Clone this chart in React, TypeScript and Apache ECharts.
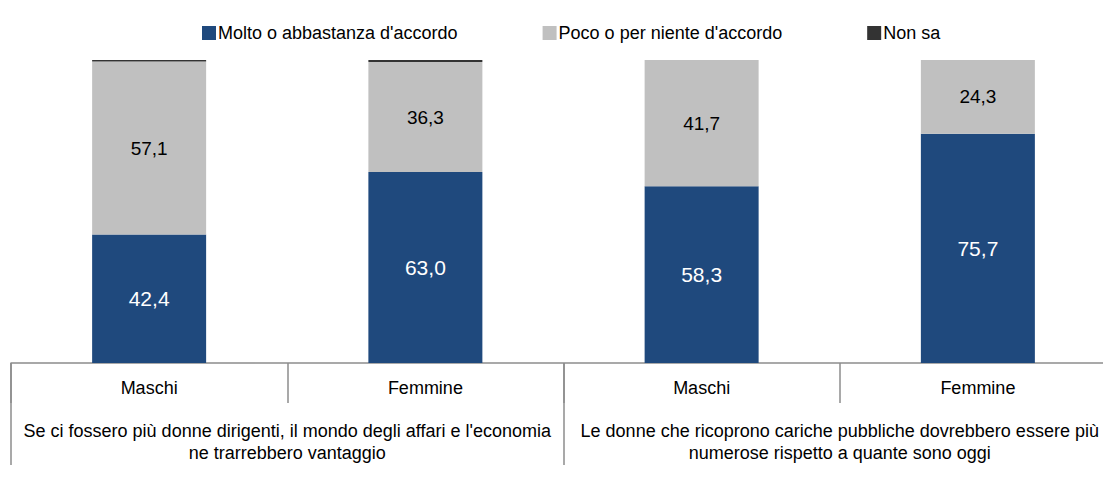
import React, { useEffect, useRef } from "react";
import * as echarts from "echarts";

const categories = ["Maschi", "Femmine", "Maschi", "Femmine"];
const groups = [
  "Se ci fossero più donne dirigenti, il mondo degli affari e l'economia\nne trarrebbero vantaggio",
  "Le donne che ricoprono cariche pubbliche dovrebbero essere più\nnumerose rispetto a quante sono oggi",
];
const accordo = [42.4, 63.0, 58.3, 75.7];
const disaccordo = [57.1, 36.3, 41.7, 24.3];
const nonSa = [0.5, 0.7, 0, 0];

const fmt = (p: any) => p.value.toFixed(1).replace(".", ",");
const FONT = "Liberation Sans, Arial, sans-serif";
const GRAY = "#8c8c8c";

export default function App() {
  const ref = useRef<HTMLDivElement>(null);
  useEffect(() => {
    const chart = echarts.init(ref.current!, null, { renderer: "svg" });
    chart.setOption({
      animation: false,
      textStyle: { fontFamily: FONT },
      legend: {
        top: 19,
        left: 197,
        itemGap: 85,
        itemWidth: 14,
        itemHeight: 14,
        icon: "rect",
        textStyle: { fontSize: 18, color: "#000", fontFamily: FONT, padding: [0, 0, 0, -3] },
        data: ["Molto o abbastanza d'accordo", "Poco o per niente d'accordo", "Non sa"],
      },
      grid: { left: 11, width: 1105, top: 60, bottom: 114, containLabel: false },
      xAxis: [
        {
          type: "category",
          data: categories,
          axisLine: { show: true, lineStyle: { color: GRAY, width: 1.5 } },
          axisTick: { show: true, length: 40, lineStyle: { color: GRAY, width: 1.5 } },
          axisLabel: { show: true, interval: 0, fontSize: 18, color: "#000", margin: 16, fontFamily: FONT },
        },
        {
          type: "category",
          data: groups,
          position: "bottom",
          axisLine: { show: false },
          axisTick: { show: true, interval: 0, length: 102, lineStyle: { color: GRAY, width: 1.5 } },
          axisLabel: {
            show: true,
            interval: 0,
            hideOverlap: false,
            fontSize: 18,
            color: "#000",
            margin: 57,
            lineHeight: 22,
            fontFamily: FONT,
          },
        },
      ],
      yAxis: { type: "value", min: 0, max: 100, show: false },
      series: [
        {
          name: "Molto o abbastanza d'accordo",
          type: "bar",
          stack: "s",
          barWidth: 114,
          data: accordo,
          itemStyle: { color: "#1F497D" },
          label: { show: true, position: "inside", color: "#fff", fontSize: 21, formatter: fmt, fontFamily: FONT },
        },
        {
          name: "Poco o per niente d'accordo",
          type: "bar",
          stack: "s",
          data: disaccordo,
          itemStyle: { color: "#C0C0C0" },
          label: { show: true, position: "inside", color: "#000", fontSize: 19, formatter: fmt, fontFamily: FONT },
        },
        {
          name: "Non sa",
          type: "bar",
          stack: "s",
          data: nonSa,
          itemStyle: { color: "#333333" },
        },
      ],
    });
    return () => chart.dispose();
  }, []);
  return (
    <div style={{ position: "absolute", left: 0, top: 0, width: 1103, height: 477, overflow: "hidden" }}>
      <div ref={ref} style={{ width: 1120, height: 477 }} />
    </div>
  );
}
